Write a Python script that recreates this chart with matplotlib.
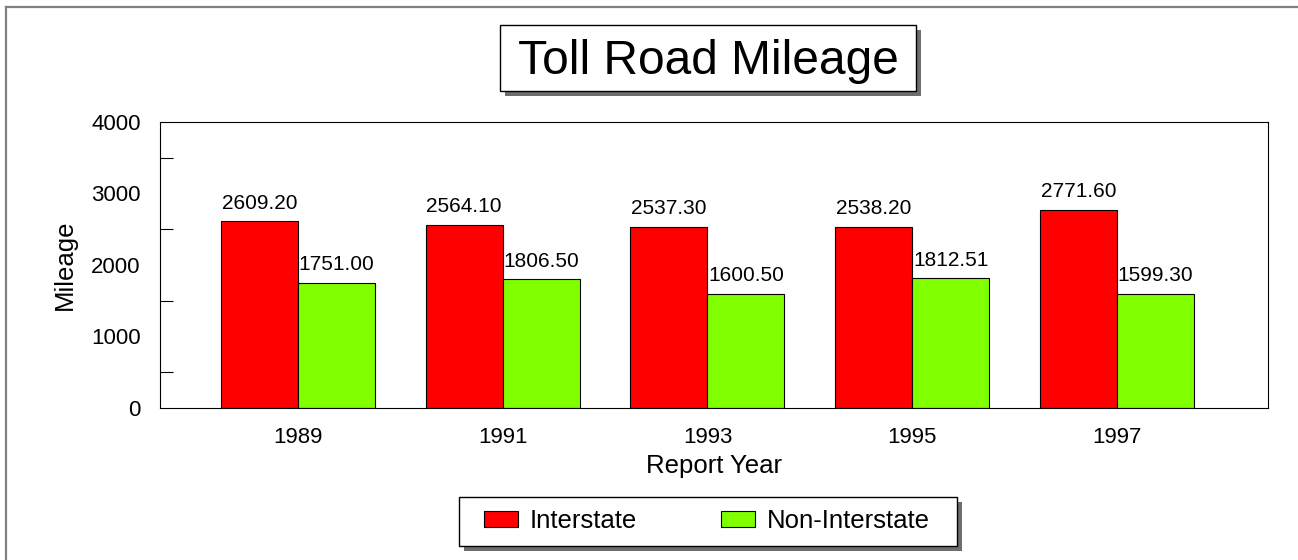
import numpy as np
import matplotlib.pyplot as plt
from matplotlib.patches import Rectangle
from matplotlib.lines import Line2D

plt.rcParams['font.family'] = ['Liberation Sans', 'DejaVu Sans']

years = ['1989', '1991', '1993', '1995', '1997']
interstate = [2609.20, 2564.10, 2537.30, 2538.20, 2771.60]
non_interstate = [1751.00, 1806.50, 1600.50, 1812.51, 1599.30]

W, H = 1298, 560
fig = plt.figure(figsize=(W / 100, H / 100), dpi=100)

def px(x0, y0, x1, y1):
    # pixel box (top-left origin) -> figure fraction rect
    return (x0 / W, 1 - y1 / H, (x1 - x0) / W, (y1 - y0) / H)

def box(x0, y0, x1, y1, **kw):
    l, b, w, h = px(x0, y0, x1, y1)
    fig.add_artist(Rectangle((l, b), w, h, transform=fig.transFigure, **kw))

# outer frame lines (top and left only)
fig.add_artist(Line2D([6 / W, 1], [1 - 7 / H, 1 - 7 / H], color='#808080', lw=1.6))
fig.add_artist(Line2D([6 / W, 6 / W], [0, 1 - 7 / H], color='#808080', lw=1.6))

ax = fig.add_axes(px(160, 122, 1268, 408))
x = np.arange(len(years))
w = 0.376
b1 = ax.bar(x - w / 2, interstate, w, color='#ff0000', edgecolor='black', linewidth=0.8, label='Interstate')
b2 = ax.bar(x + w / 2, non_interstate, w, color='#80ff00', edgecolor='black', linewidth=0.8, label='Non-Interstate')

for bars, vals in ((b1, interstate), (b2, non_interstate)):
    for r, v in zip(bars, vals):
        ax.annotate('%.2f' % v, (r.get_x() + r.get_width() / 2, v), xytext=(0, 6),
                    textcoords='offset points', ha='center', va='bottom', fontsize=15)

ax.set_xlim(-0.673, len(years) - 1 + 0.737)
ax.set_ylim(0, 4000)
ax.set_xticks(x)
ax.set_xticklabels(years)
ax.set_yticks([0, 1000, 2000, 3000, 4000])
ax.set_yticks([500, 1500, 2500, 3500], minor=True)
ax.tick_params(axis='y', which='major', length=0, pad=14, labelsize=16)
ax.tick_params(axis='y', which='minor', direction='in', length=9, width=0.8)
ax.tick_params(axis='x', length=0, pad=14, labelsize=16)
ax.set_xlabel('Report Year', fontsize=18.5, labelpad=4)
ax.set_ylabel('Mileage', fontsize=18.5, labelpad=10)
for s in ax.spines.values():
    s.set_linewidth(0.8)

# title box with shadow
box(505, 30, 921, 96, facecolor='#6e6e6e', edgecolor='none')
box(500, 25, 916, 91, facecolor='white', edgecolor='black', lw=1)
fig.text(708 / W, 1 - 61 / H, 'Toll Road Mileage', fontsize=34.5, ha='center', va='center')

# legend box with shadow
box(464, 502, 962, 551, facecolor='#6e6e6e', edgecolor='none')
box(459, 497, 957, 546, facecolor='white', edgecolor='black', lw=1)
leg = fig.legend(handles=[b1, b2], loc='center', bbox_to_anchor=(707 / W, 1 - 521 / H),
                 ncols=2, fontsize=18.5, frameon=False,
                 handlelength=1.32, handleheight=0.55, handletextpad=0.47,
                 columnspacing=3.27, borderpad=0, borderaxespad=0)

fig.savefig('out.png', dpi=100)
